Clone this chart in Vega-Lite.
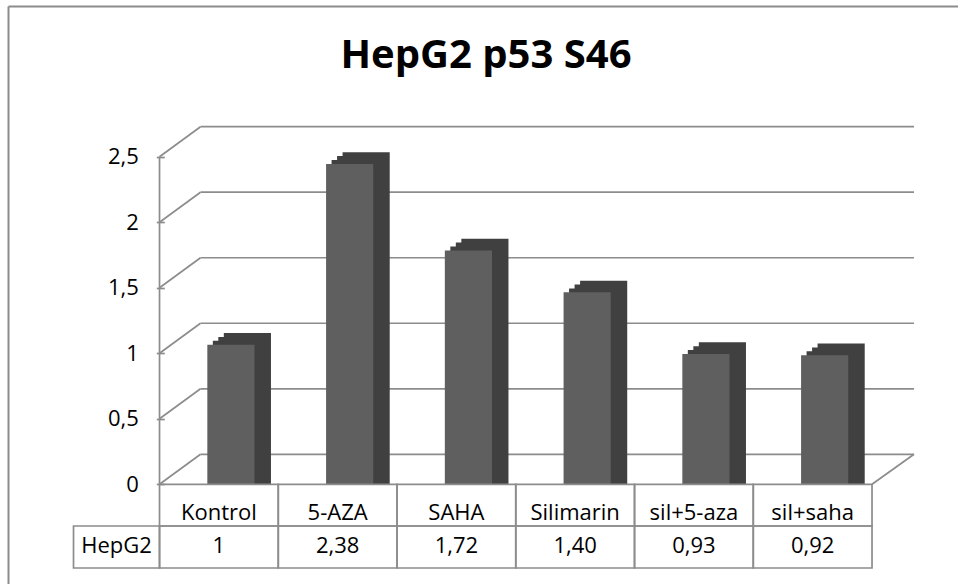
{
  "$schema": "https://vega.github.io/schema/vega-lite/v6.json",
  "width": 950,
  "height": 578,
  "autosize": {"type": "none"},
  "padding": {"left": 8, "top": 6, "right": 0, "bottom": 0},
  "background": "white",
  "config": {"view": {"stroke": null}, "font": "Open Sans"},
  "title": {"text": "HepG2 p53 S46", "font": "Open Sans", "fontSize": 40, "fontWeight": "bold", "color": "#000000", "anchor": "middle", "frame": "group", "baseline": "alphabetic", "offset": -102, "dx": 3},
  "datasets": {
    "bars": [
      {"group": "Kontrol", "value": 1, "shown": "1"},
      {"group": "5-AZA", "value": 2.38, "shown": "2,38"},
      {"group": "SAHA", "value": 1.72, "shown": "1,72"},
      {"group": "Silimarin", "value": 1.40, "shown": "1,40"},
      {"group": "sil+5-aza", "value": 0.93, "shown": "0,93"},
      {"group": "sil+saha", "value": 0.92, "shown": "0,92"}
    ],
    "levels": [{"level": 0}, {"level": 0.5}, {"level": 1}, {"level": 1.5}, {"level": 2}, {"level": 2.5}],
    "rows": [{"row": "HepG2"}]
  },
  "layer": [
    {
      "data": {"name": "levels"},
      "mark": {"type": "rule", "color": "#8c8c8c", "strokeWidth": 1.7, "xOffset": 41, "x2Offset": 42, "yOffset": -30},
      "encoding": {
        "x": {"datum": "Kontrol", "type": "nominal", "bandPosition": 0,
              "scale": {"type": "band", "domain": ["Kontrol", "5-AZA", "SAHA", "Silimarin", "sil+5-aza", "sil+saha"], "paddingInner": 0, "paddingOuter": 1.0426, "align": 0.638},
              "axis": {"orient": "top", "domain": true, "domainColor": "#8c8c8c", "domainWidth": 2, "ticks": false, "labels": false, "grid": false, "title": null}},
        "x2": {"datum": "sil+saha", "bandPosition": 1},
        "y": {"field": "level", "type": "quantitative", "scale": {"domain": [-0.7608, 3.65], "nice": false, "zero": false}, "axis": null}
      }
    },
    {
      "data": {"name": "levels"},
      "mark": {"type": "rule", "color": "#8c8c8c", "strokeWidth": 1.7, "x2Offset": 41, "y2Offset": -30},
      "encoding": {
        "x": {"datum": "Kontrol", "type": "nominal", "bandPosition": 0, "scale": {"domain": ["Kontrol", "5-AZA", "SAHA", "Silimarin", "sil+5-aza", "sil+saha"]}},
        "x2": {"datum": "Kontrol", "bandPosition": 0},
        "y": {"field": "level", "type": "quantitative", "axis": null},
        "y2": {"field": "level"}
      }
    },
    {
      "data": {"name": "rows"},
      "mark": {"type": "rule", "color": "#8c8c8c", "strokeWidth": 1.7, "x2Offset": 42, "y2Offset": -30},
      "encoding": {
        "x": {"datum": "sil+saha", "type": "nominal", "bandPosition": 1, "scale": {"domain": ["Kontrol", "5-AZA", "SAHA", "Silimarin", "sil+5-aza", "sil+saha"]}},
        "x2": {"datum": "sil+saha", "bandPosition": 1},
        "y": {"datum": 0, "type": "quantitative", "axis": null},
        "y2": {"datum": 0}
      }
    },
    {
      "data": {"name": "rows"},
      "mark": {"type": "rule", "color": "#8c8c8c", "strokeWidth": 1.7},
      "encoding": {
        "x": {"datum": "Kontrol", "type": "nominal", "bandPosition": 0, "scale": {"domain": ["Kontrol", "5-AZA", "SAHA", "Silimarin", "sil+5-aza", "sil+saha"]}},
        "y": {"datum": 0, "type": "quantitative",
              "axis": {"orient": "left", "domain": true, "domainColor": "#8c8c8c", "domainWidth": 2, "ticks": false, "labels": false, "grid": false, "title": null}},
        "y2": {"datum": 2.5}
      }
    },
    {
      "data": {"name": "bars"},
      "mark": {"type": "bar", "color": "#404040", "width": {"band": 0.397}, "xOffset": 28.5, "yOffset": -20.2, "y2Offset": -20.2},
      "encoding": {
        "x": {"field": "group", "type": "nominal", "sort": null, "scale": {"domain": ["Kontrol", "5-AZA", "SAHA", "Silimarin", "sil+5-aza", "sil+saha"]}},
        "y": {"field": "value", "type": "quantitative", "stack": null, "axis": null}
      }
    },
    {
      "data": {"name": "bars"},
      "mark": {"type": "bar", "color": "#404040", "width": {"band": 0.397}, "xOffset": 23, "yOffset": -16.3, "y2Offset": -16.3},
      "encoding": {
        "x": {"field": "group", "type": "nominal", "sort": null, "scale": {"domain": ["Kontrol", "5-AZA", "SAHA", "Silimarin", "sil+5-aza", "sil+saha"]}},
        "y": {"field": "value", "type": "quantitative", "stack": null, "axis": null}
      }
    },
    {
      "data": {"name": "bars"},
      "mark": {"type": "bar", "color": "#404040", "width": {"band": 0.397}, "xOffset": 17.5, "yOffset": -12.4, "y2Offset": -12.4},
      "encoding": {
        "x": {"field": "group", "type": "nominal", "sort": null, "scale": {"domain": ["Kontrol", "5-AZA", "SAHA", "Silimarin", "sil+5-aza", "sil+saha"]}},
        "y": {"field": "value", "type": "quantitative", "stack": null, "axis": null}
      }
    },
    {
      "data": {"name": "bars"},
      "mark": {"type": "bar", "color": "#5f5f5f", "width": {"band": 0.397}, "xOffset": 12, "yOffset": -8.5, "y2Offset": -8.5},
      "encoding": {
        "x": {"field": "group", "type": "nominal", "sort": null, "scale": {"domain": ["Kontrol", "5-AZA", "SAHA", "Silimarin", "sil+5-aza", "sil+saha"]}},
        "y": {"field": "value", "type": "quantitative", "stack": null,
              "axis": {"orient": "left", "offset": -156.3, "values": [0, 0.5, 1, 1.5, 2, 2.5], "format": ".1~f", "labelExpr": "replace(datum.label, '.', ',')",
                       "domain": false, "ticks": true, "tickSize": 8, "tickColor": "#8c8c8c", "tickWidth": 1.7, "grid": false,
                       "labelFont": "Open Sans", "labelFontSize": 22, "labelColor": "#000000", "labelPadding": 18, "title": null}}
      }
    },
    {
      "data": {"name": "bars"},
      "mark": {"type": "rect", "fill": "#ffffff", "fillOpacity": 0, "stroke": "#8c8c8c", "strokeWidth": 1.7},
      "encoding": {
        "x": {"field": "group", "type": "nominal", "sort": null, "scale": {"domain": ["Kontrol", "5-AZA", "SAHA", "Silimarin", "sil+5-aza", "sil+saha"]}},
        "y": {"datum": 0, "type": "quantitative", "axis": null},
        "y2": {"datum": -0.3182}
      }
    },
    {
      "data": {"name": "bars"},
      "mark": {"type": "rect", "fill": "#ffffff", "fillOpacity": 0, "stroke": "#8c8c8c", "strokeWidth": 1.7},
      "encoding": {
        "x": {"field": "group", "type": "nominal", "sort": null, "scale": {"domain": ["Kontrol", "5-AZA", "SAHA", "Silimarin", "sil+5-aza", "sil+saha"]}},
        "y": {"datum": -0.3182, "type": "quantitative", "axis": null},
        "y2": {"datum": -0.6387}
      }
    },
    {
      "data": {"name": "rows"},
      "mark": {"type": "rect", "fill": "#ffffff", "fillOpacity": 0, "stroke": "#8c8c8c", "strokeWidth": 1.7, "xOffset": -86},
      "encoding": {
        "x": {"datum": "Kontrol", "type": "nominal", "bandPosition": 0, "scale": {"domain": ["Kontrol", "5-AZA", "SAHA", "Silimarin", "sil+5-aza", "sil+saha"]}},
        "x2": {"datum": "Kontrol", "bandPosition": 0},
        "y": {"datum": -0.3182, "type": "quantitative", "axis": null},
        "y2": {"datum": -0.6387}
      }
    },
    {
      "data": {"name": "bars"},
      "mark": {"type": "text", "font": "Open Sans", "fontSize": 22, "color": "#000000", "baseline": "alphabetic", "align": "center"},
      "encoding": {
        "x": {"field": "group", "type": "nominal", "sort": null, "scale": {"domain": ["Kontrol", "5-AZA", "SAHA", "Silimarin", "sil+5-aza", "sil+saha"]}},
        "y": {"datum": -0.2687, "type": "quantitative", "axis": null},
        "text": {"field": "group"}
      }
    },
    {
      "data": {"name": "bars"},
      "mark": {"type": "text", "font": "Open Sans", "fontSize": 22, "color": "#000000", "baseline": "alphabetic", "align": "center"},
      "encoding": {
        "x": {"field": "group", "type": "nominal", "sort": null, "scale": {"domain": ["Kontrol", "5-AZA", "SAHA", "Silimarin", "sil+5-aza", "sil+saha"]}},
        "y": {"datum": -0.5266, "type": "quantitative", "axis": null},
        "text": {"field": "shown"}
      }
    },
    {
      "data": {"name": "rows"},
      "mark": {"type": "text", "font": "Open Sans", "fontSize": 22, "color": "#000000", "baseline": "alphabetic", "align": "center", "xOffset": -43},
      "encoding": {
        "x": {"datum": "Kontrol", "type": "nominal", "bandPosition": 0, "scale": {"domain": ["Kontrol", "5-AZA", "SAHA", "Silimarin", "sil+5-aza", "sil+saha"]}},
        "y": {"datum": -0.5266, "type": "quantitative", "axis": null},
        "text": {"field": "row"}
      }
    }
  ],
  "resolve": {"axis": {"y": "independent"}}
}
